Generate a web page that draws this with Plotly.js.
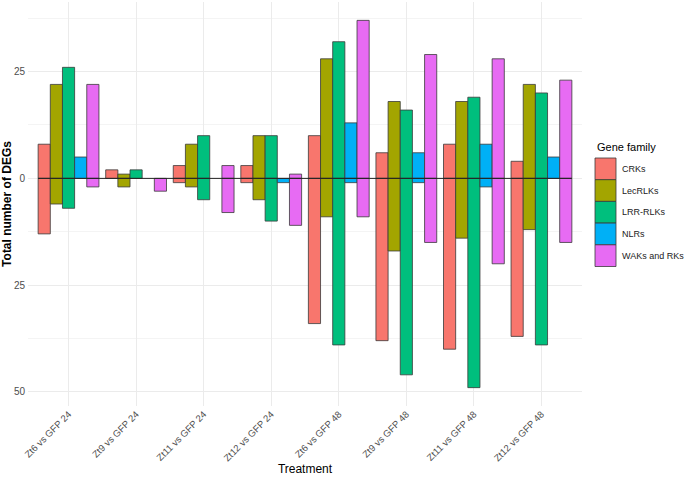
<!DOCTYPE html>
<html>
<head>
<meta charset="utf-8">
<script src="https://cdn.plot.ly/plotly-3.0.1.min.js"></script>
<style>
  html, body { margin: 0; padding: 0; background: #fff; }
  #chart { width: 685px; height: 477px; }
</style>
</head>
<body>
<div id="chart"></div>
<script>
// treatments on the x axis
const treatments = ['Zt6 vs GFP 24', 'Zt9 vs GFP 24', 'Zt11 vs GFP 24', 'Zt12 vs GFP 24',
                    'Zt6 vs GFP 48', 'Zt9 vs GFP 48', 'Zt11 vs GFP 48', 'Zt12 vs GFP 48'];
const families = ['CRKs', 'LecRLKs', 'LRR-RLKs', 'NLRs', 'WAKs and RKs'];
const familyColors = ['#F8766D', '#A3A500', '#00BF7D', '#00B0F6', '#E76BF3'];

// up-regulated counts (drawn above zero)
const upCRKs = [8, 2, 3, 3, 10, 6, 8, 4];
const upLecRLKs = [22, 1, 8, 10, 28, 18, 18, 22];
const upLRRRLKs = [26, 2, 10, 10, 32, 16, 19, 20];
const upNLRs = [5, 0, 0, 0, 13, 6, 8, 5];
const upWAKs = [22, 0, 3, 1, 37, 29, 28, 23];

// down-regulated counts (drawn below zero)
const downCRKs = [13, 0, 1, 1, 34, 38, 40, 37];
const downLecRLKs = [6, 2, 2, 5, 9, 17, 14, 12];
const downLRRRLKs = [7, 0, 5, 10, 39, 46, 49, 39];
const downNLRs = [0, 0, 0, 1, 1, 1, 2, 0];
const downWAKs = [2, 3, 8, 11, 9, 15, 20, 15];

const yTickVals = [-50, -25, 0, 25];
const yTickText = ['50', '25', '0', '25'];

const upSeries = [upCRKs, upLecRLKs, upLRRRLKs, upNLRs, upWAKs];
const downSeries = [downCRKs, downLecRLKs, downLRRRLKs, downNLRs, downWAKs];

const FONT = 'Liberation Sans, Arial, sans-serif';
const M = { l: 28, r: 103, t: 2, b: 71 };
const W = 685, H = 477;
const pw = W - M.l - M.r, ph = H - M.t - M.b;
// pixel -> paper helpers (for the hand-drawn legend)
const px = x => (x - M.l) / pw;
const py = y => (H - M.b - y) / ph;

const traces = [];
families.forEach((fam, i) => {
  const common = {
    type: 'bar',
    x: treatments,
    offsetgroup: fam,
    name: fam,
    showlegend: false,
    hoverinfo: 'x+name',
    marker: { color: familyColors[i], line: { color: '#3a3a3a', width: 0.8 } }
  };
  traces.push(Object.assign({}, common, { y: upSeries[i].map(v => v === 0 ? null : v) }));
  traces.push(Object.assign({}, common, { y: downSeries[i].map(v => v === 0 ? null : -v) }));
});

// zero line + legend (ggplot-style key boxes)
const shapes = [{
  type: 'line', xref: 'x', yref: 'y', x0: -0.45, x1: 7.45, y0: 0, y1: 0,
  line: { color: '#222', width: 1 }, layer: 'above'
}];
const annotations = [{
  xref: 'paper', yref: 'paper', x: px(595), y: py(147), xanchor: 'left', yanchor: 'middle',
  text: 'Gene family', showarrow: false, font: { family: FONT, size: 11, color: '#000' }
}];
families.forEach((fam, i) => {
  const top = 158 + i * 21.7;
  shapes.push({
    type: 'rect', xref: 'paper', yref: 'paper',
    x0: px(595), x1: px(616), y0: py(top), y1: py(top + 21.7),
    fillcolor: familyColors[i], line: { color: '#3a3a3a', width: 0.8 }
  });
  annotations.push({
    xref: 'paper', yref: 'paper', x: px(620), y: py(top + 10.8), xanchor: 'left', yanchor: 'middle',
    text: fam, showarrow: false, font: { family: FONT, size: 9, color: '#222' }
  });
});

const layout = {
  width: W, height: H,
  margin: M,
  paper_bgcolor: '#fff', plot_bgcolor: '#fff',
  font: { family: FONT, color: '#4d4d4d', size: 10 },
  barmode: 'group', bargap: 0.1, bargroupgap: 0,
  showlegend: false,
  xaxis: {
    type: 'category', range: [-0.6, 7.6],
    showgrid: true, gridcolor: '#ebebeb', gridwidth: 1,
    zeroline: false, showline: false, ticks: '',
    tickangle: -45, tickfont: { size: 9.5, color: '#4d4d4d' },
    title: { text: 'Treatment', font: { size: 12, color: '#000' }, standoff: 2 },
    automargin: false
  },
  yaxis: {
    range: [-53.3, 41.3],
    tickmode: 'array', tickvals: yTickVals, ticktext: yTickText,
    showgrid: true, gridcolor: '#ebebeb', gridwidth: 1,
    minor: { tickvals: [-37.5, -12.5, 12.5, 37.5], showgrid: true, gridcolor: '#f4f4f4', gridwidth: 1 },
    zeroline: false, showline: false, ticks: '',
    tickfont: { size: 10, color: '#4d4d4d' },
    ticklabelstandoff: 2,
    title: { text: '<b>Total number of DEGs</b>', font: { size: 12, color: '#000' }, standoff: 4 },
    automargin: false
  },
  shapes: shapes,
  annotations: annotations
};

Plotly.newPlot('chart', traces, layout, { displayModeBar: false, staticPlot: true });
</script>
</body>
</html>
